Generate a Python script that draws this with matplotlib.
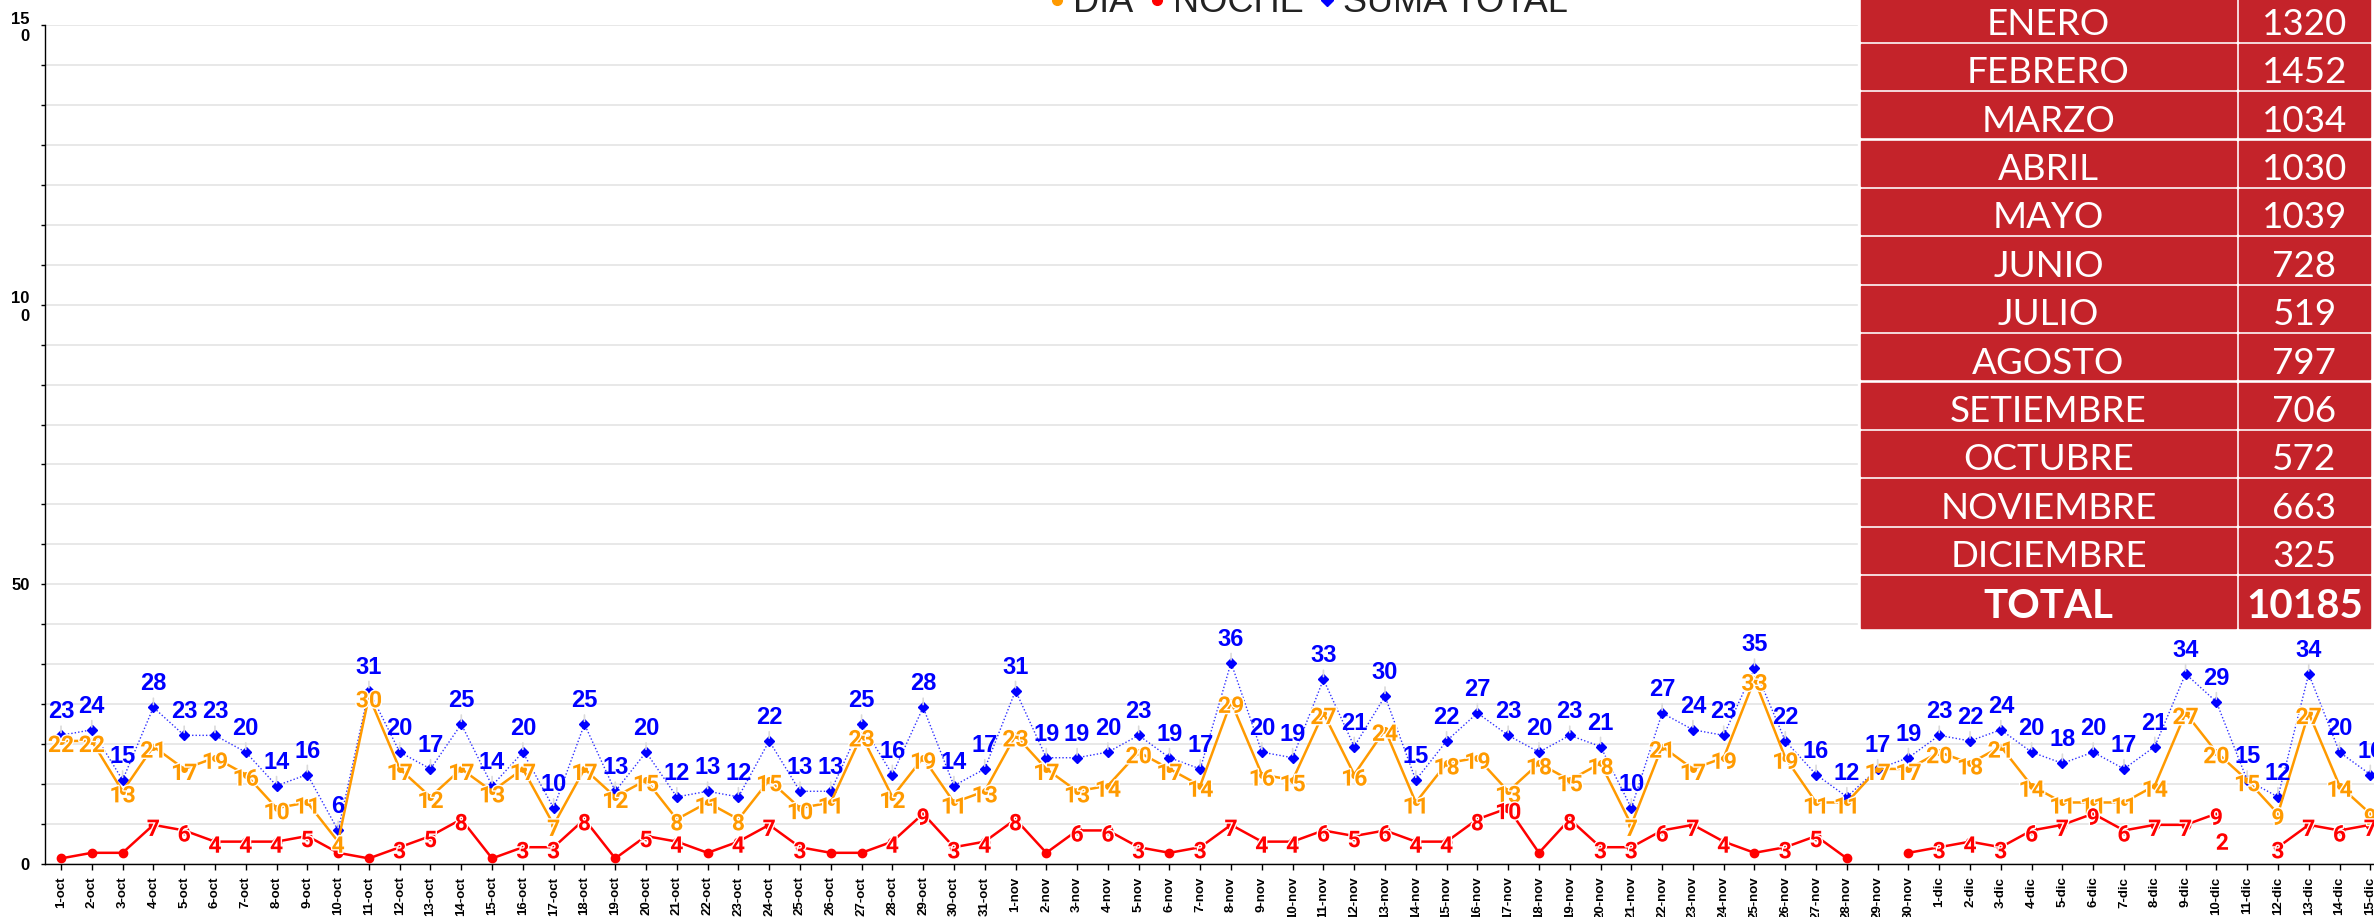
import numpy as np
import matplotlib.pyplot as plt
import matplotlib.patheffects as pe
from matplotlib import font_manager
from matplotlib.lines import Line2D
from matplotlib.patches import Rectangle

plt.rcParams['font.family'] = ['Liberation Sans', 'DejaVu Sans']

W, H = 2374, 917

# categorias (dias)
fechas = ([f"{d}-oct" for d in range(1, 32)] + [f"{d}-nov" for d in range(1, 31)]
          + [f"{d}-dic" for d in range(1, 16)])

dia = [22, 22, 13, 21, 17, 19, 16, 10, 11, 4, 30, 17, 12, 17, 13, 17, 7, 17, 12, 15,
       8, 11, 8, 15, 10, 11, 23, 12, 19, 11, 13,
       23, 17, 13, 14, 20, 17, 14, 29, 16, 15, 27, 16, 24, 11, 18, 19, 13, 18, 15, 18,
       7, 21, 17, 19, 33, 19, 11, 11, 17, 17,
       20, 18, 21, 14, 11, 11, 11, 14, 27, 20, 15, 9, 27, 14, 9]
noche = [1, 2, 2, 7, 6, 4, 4, 4, 5, 2, 1, 3, 5, 8, 1, 3, 3, 8, 1, 5,
         4, 2, 4, 7, 3, 2, 2, 4, 9, 3, 4,
         8, 2, 6, 6, 3, 2, 3, 7, 4, 4, 6, 5, 6, 4, 4, 8, 10, 2, 8, 3,
         3, 6, 7, 4, 2, 3, 5, 1, None, 2,
         3, 4, 3, 6, 7, 9, 6, 7, 7, 9, None, 3, 7, 6, 7]
suma = [23, 24, 15, 28, 23, 23, 20, 14, 16, 6, 31, 20, 17, 25, 14, 20, 10, 25, 13, 20,
        12, 13, 12, 22, 13, 13, 25, 16, 28, 14, 17,
        31, 19, 19, 20, 23, 19, 17, 36, 20, 19, 33, 21, 30, 15, 22, 27, 23, 20, 23, 21,
        10, 27, 24, 23, 35, 22, 16, 12, 17, 19,
        23, 22, 24, 20, 18, 20, 17, 21, 34, 29, 15, 12, 34, 20, 16]

# etiqueta suelta que aparece en el grafico original
etiqueta_suelta = "2"
dia_suelta = "10-dic"

y_ticks = np.arange(22) * 50 / 7
y_labels = ["0" if i == 0 else "50" if i == 7 else "10\n0" if i == 14 else "15\n0" if i == 21 else ""
            for i in range(22)]

meses = ["ENERO", "FEBRERO", "MARZO", "ABRIL", "MAYO", "JUNIO", "JULIO",
         "AGOSTO", "SETIEMBRE", "OCTUBRE", "NOVIEMBRE", "DICIEMBRE"]
totales = [1320, 1452, 1034, 1030, 1039, 728, 519, 797, 706, 572, 663, 325]
total_general = 10185

C_DIA = '#ff9a00'
C_NOCHE = '#ff0000'
C_SUMA = '#0000ff'

names = {f.name for f in font_manager.fontManager.ttflist}
if 'Liberation Sans Narrow' in names:
    xfam, xsize = 'Liberation Sans Narrow', 11
else:
    xfam, xsize = 'Liberation Sans', 9.5

fig = plt.figure(figsize=(W / 100, H / 100), dpi=100)
ax = fig.add_axes([45 / W, 1 - 864 / H, 1 - 45 / W, (864 - 25) / H])

x = np.arange(len(fechas))
noche_arr = np.array([np.nan if v is None else v for v in noche], dtype=float)

ax.plot(x, suma, color='#3030ff', lw=1.0, ls=(0, (1, 1.5)), marker='D', ms=5.5,
        mfc=C_SUMA, mec=C_SUMA, zorder=3)
ax.plot(x, dia, color=C_DIA, lw=1.8, marker='o', ms=4, zorder=4)
ax.plot(x, noche_arr, color=C_NOCHE, lw=1.8, marker='o', ms=6, zorder=4)

halo = [pe.withStroke(linewidth=2, foreground='white')]
lab_font = ['Roboto', 'DejaVu Sans']

for xi, v in zip(x, suma):
    ax.annotate(str(v), (xi, v), xytext=(0, 12.2), textcoords='offset points',
                ha='center', va='baseline', fontsize=17, fontweight='bold', color=C_SUMA,
                zorder=6,
                arrowprops=dict(arrowstyle='-', color='#dadada', lw=1.2, shrinkA=0, shrinkB=2))
for xi, v in zip(x, dia):
    ax.annotate(str(v), (xi, v), xytext=(0, -1.5), textcoords='offset points',
                ha='center', va='center_baseline', fontsize=16.5, fontweight='bold', color=C_DIA,
                zorder=5, family=lab_font, path_effects=halo)
for xi, v in zip(x, noche_arr):
    if not np.isnan(v) and v >= 3:
        ax.annotate(str(int(v)), (xi, v), xytext=(0, -1.5), textcoords='offset points',
                    ha='center', va='center_baseline', fontsize=16.5, fontweight='bold',
                    color=C_NOCHE, zorder=5, family=lab_font, path_effects=halo)
i_s = fechas.index(dia_suelta)
ax.annotate(etiqueta_suelta, (i_s, noche_arr[i_s]), xytext=(4.3, -19.5), textcoords='offset points',
            ha='center', va='center_baseline', fontsize=16.5, fontweight='bold', color=C_NOCHE,
            zorder=5, family=lab_font, path_effects=halo)

ax.set_xlim(-0.52, 75.12)
ax.set_ylim(0, 150)
ax.set_yticks(y_ticks)
ax.set_yticklabels(y_labels, fontsize=12, fontweight='bold')
ax.set_xticks(x)
ax.set_xticklabels(fechas, rotation=90, fontsize=xsize, fontweight='bold', family=[xfam, 'Liberation Sans'])
ax.tick_params(axis='y', length=3, width=1, pad=8)
ax.tick_params(axis='x', length=4, width=1, pad=5)
ax.grid(axis='y', color='#e4e4e4', lw=1.2)
ax.set_axisbelow(True)
for s in ['top', 'right']:
    ax.spines[s].set_visible(False)
for s in ['left', 'bottom']:
    ax.spines[s].set_linewidth(1.0)

handles = [Line2D([], [], ls='none', marker='o', color=C_DIA, ms=7),
           Line2D([], [], ls='none', marker='o', color=C_NOCHE, ms=7),
           Line2D([], [], ls='none', marker='D', color=C_SUMA, ms=6)]
fig.legend(handles, ['DIA', 'NOCHE', 'SUMA TOTAL'], loc='center', bbox_to_anchor=(1308 / W, 1 - 3 / H),
           ncol=3, frameon=False, prop={'family': 'Liberation Sans', 'size': 26}, labelcolor='#222222',
           handlelength=0.5, handletextpad=0.2, columnspacing=0.4, borderpad=0, borderaxespad=0)

# tabla de totales mensuales
tab = fig.add_axes([0, 0, 1, 1], zorder=10)
tab.set_xlim(0, W)
tab.set_ylim(H, 0)
tab.axis('off')
RED = '#c4232a'
tab.add_patch(Rectangle((1858, -10), W - 1858, 640, color='white'))
x0, x1, x2, x3 = 1861, 2236, 2239, 2370
filas = meses + ['TOTAL']
valores = totales + [total_general]
for i, (m, v) in enumerate(zip(filas, valores)):
    if i < 12:
        top, h, fs, fw, base = -4.7 + 48.4 * i, 45.3, 26.5, 'normal', 39.4
    else:
        top, h, fs, fw, base = 576.1, 51.6, 29, 'bold', 41.9
    tab.add_patch(Rectangle((x0, top), x1 - x0, h, color=RED))
    tab.add_patch(Rectangle((x2, top), x3 - x2, h, color=RED))
    tab.text((x0 + x1) / 2, top + base, m, ha='center', va='baseline', color='white',
             fontsize=fs, fontweight=fw, family=['Lato', 'DejaVu Sans'])
    tab.text((x2 + x3) / 2, top + base, str(v), ha='center', va='baseline', color='white',
             fontsize=fs, fontweight=fw, family=['Lato', 'DejaVu Sans'])

fig.savefig('out.png', dpi=100)
